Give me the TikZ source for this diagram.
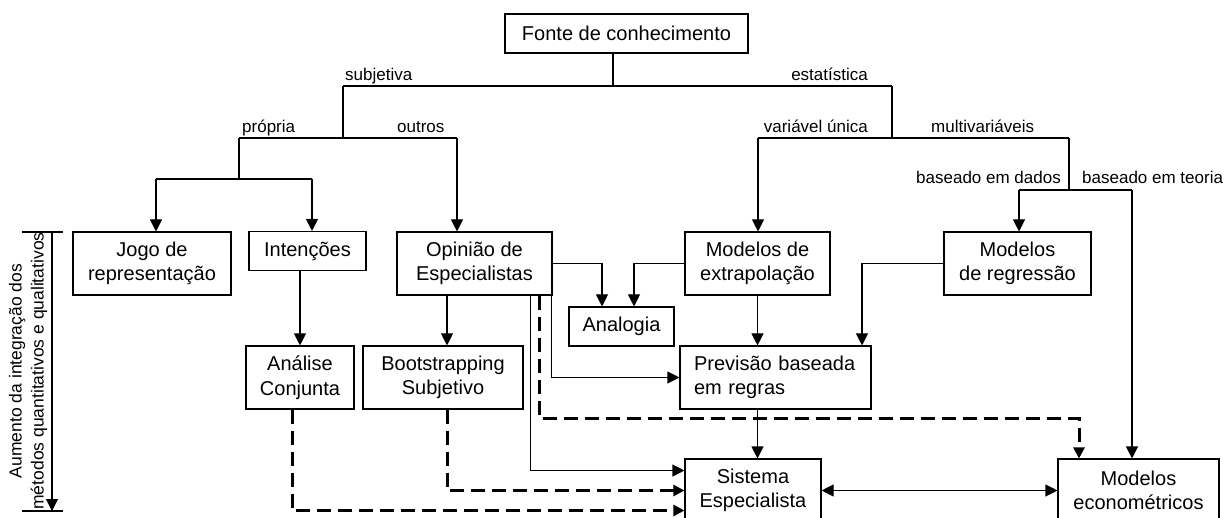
\documentclass[tikz,border=0pt]{standalone}
\usepackage{fontspec}
\setmainfont{Liberation Sans}
\usetikzlibrary{arrows.meta}

\begin{document}
\begin{tikzpicture}[
    x=1pt, y=-1pt,
    box/.style={rectangle, draw, line width=1.1pt, inner sep=0pt, align=center, font=\fontsize{20}{24.5}\selectfont},
    short/.style={minimum height=39pt},
    tall/.style={minimum height=63pt},
    lbl/.style={inner sep=0pt, font=\fontsize{17}{20}\selectfont},
    line/.style={line width=1.1pt},
    arrow/.style={line width=1.1pt, -{Triangle[length=12pt,width=12pt]}},
    biarrow/.style={line width=1.1pt, {Triangle[length=12pt,width=12pt]}-{Triangle[length=12pt,width=12pt]}},
    dasharrow/.style={line width=3pt, dash pattern=on 14pt off 7pt, -{Triangle[length=11pt,width=11pt]}}
]
    \fill[white] (0,0) rectangle (1231,518);
    \useasboundingbox (0,0) rectangle (1231,518);

    % Top
    \node[box, short, minimum width=243pt] (fonte) at (626.5,33.5) {Fonte de conhecimento};

    % First row
    \node[box, tall, minimum width=158pt] (jogo) at (152,263.5) {Jogo de\\representação};
    \node[box, short, minimum width=117pt] (intencoes) at (307.5,251) {Intenções};
    \node[box, tall, minimum width=155pt] (opiniao) at (474.5,263.5) {Opinião de\\Especialistas};
    \node[box, tall, minimum width=145pt] (extrap) at (757.5,263.5) {Modelos de\\extrapolação};
    \node[box, tall, minimum width=147pt] (regressao) at (1017.5,263.5) {Modelos\\de regressão};

    % Second row
    \node[box, short, minimum width=105pt] (analogia) at (621.5,326.5) {Analogia};
    \node[box, tall, minimum width=108pt] (analise) at (300,377.5) {Análise\\Conjunta};
    \node[box, tall, minimum width=160pt] (bootstrap) at (443,377.5) {Bootstrapping\\Subjetivo};
    \node[box, tall, text width=163pt, inner xsep=14pt, align=left] (previsao) at (775.5,377.5) {Previsão baseada\\em regras};

    % Bottom row
    \node[box, tall, minimum width=136pt] (sistema) at (753,490.5) {Sistema\\Especialista};
    \node[box, tall, minimum width=161pt] (econo) at (1138.5,490.5) {Modelos\\econométricos};

    % Tree junctions
    \coordinate (subj) at (343,86);
    \coordinate (estat) at (892,86);
    \coordinate (propria) at (239,138);
    \coordinate (outros) at (457,138);
    \coordinate (unica) at (758,138);
    \coordinate (multi) at (1069,138);
    \coordinate (jl) at (156,179);
    \coordinate (jr) at (312,179);
    \coordinate (dados) at (1019,190);
    \coordinate (teoria) at (1132,190);

    \draw[line] ([xshift=-13.5]fonte.south) -- ([xshift=-13.5]fonte.south |- subj);
    \draw[line] (subj) -- (estat);
    \draw[line] (subj) -- (subj |- propria);
    \draw[line] (propria) -- (outros);
    \draw[line] (estat) -- (estat |- unica);
    \draw[line] (unica) -- (multi);
    \draw[line] (propria) -- (propria |- jl);
    \draw[line] (jl) -- (jr);
    \draw[line] (multi) -- (multi |- dados);
    \draw[line] (dados) -- (teoria);
    \draw[arrow] (jl) -- (jl |- jogo.north);
    \draw[arrow] (jr) -- (jr |- intencoes.north);
    \draw[arrow] (outros) -- (outros |- opiniao.north);
    \draw[arrow] (unica) -- (unica |- extrap.north);
    \draw[arrow] (dados) -- (dados |- regressao.north);
    \draw[arrow] (teoria) -- (teoria |- econo.north);

    % Labels
    \node[lbl, anchor=base west] (lsubj) at (345,81) {subjetiva};
    \node[lbl, anchor=base east] (lestat) at (868,81) {estatística};
    \node[lbl, anchor=base west] (lpropria) at (242,133) {própria};
    \node[lbl, anchor=base west] (loutros) at (397,133) {outros};
    \node[lbl, anchor=base east] (lunica) at (868,133) {variável única};
    \node[lbl, anchor=base west] (lmulti) at (931,133) {multivariáveis};
    \node[lbl, anchor=base east] (ldados) at (1061,184) {baseado em dados};
    \node[lbl, anchor=base west] (lteoria) at (1082,184) {baseado em teoria};

    % Lower connections
    \draw[arrow] (opiniao.east) -| ([xshift=-19.5]analogia.north);
    \draw[arrow] (extrap.west) -| ([xshift=12.5]analogia.north);
    \draw[arrow] (analise.north |- intencoes.south) -- (analise.north);
    \draw[arrow] ([xshift=4]bootstrap.north |- opiniao.south) -- ([xshift=4]bootstrap.north);
    \draw[arrow] (extrap.south) -- (extrap.south |- previsao.north);
    \draw[arrow] (regressao.west) -| ([xshift=86.5]previsao.north);
    \draw[arrow] ([xshift=-1.5]opiniao.south east) |- (previsao.west);
    \draw[arrow] ([xshift=-22]opiniao.south east) |- ([yshift=20]sistema.west);
    \draw[arrow] (extrap.south |- previsao.south) -- (extrap.south |- sistema.north);
    \draw[dasharrow] ([xshift=-13]opiniao.south east) |- ([xshift=-59.5,yshift=40]econo.north) -- ([xshift=-59.5]econo.north);
    \draw[dasharrow] ([xshift=4]bootstrap.south) |- (sistema.west);
    \draw[dasharrow] ([xshift=-8]analise.south) |- ([yshift=-20]sistema.west);
    \draw[biarrow] (sistema.east) -- (econo.west);

    % Axis
    \coordinate (axtop) at (52,232);
    \coordinate (axbot) at (52,511);
    \draw[line] ([xshift=-30]axtop) -- ([xshift=11]axtop);
    \draw[line] ([xshift=-30]axbot) -- ([xshift=11]axbot);
    \draw[arrow] (axtop) -- (axbot);
    \node[lbl, rotate=90, align=center, font=\fontsize{17.5}{22}\selectfont] (eixo) at (28,371) {Aumento da integração dos\\métodos quantitativos e qualitativos};
\end{tikzpicture}
\end{document}
